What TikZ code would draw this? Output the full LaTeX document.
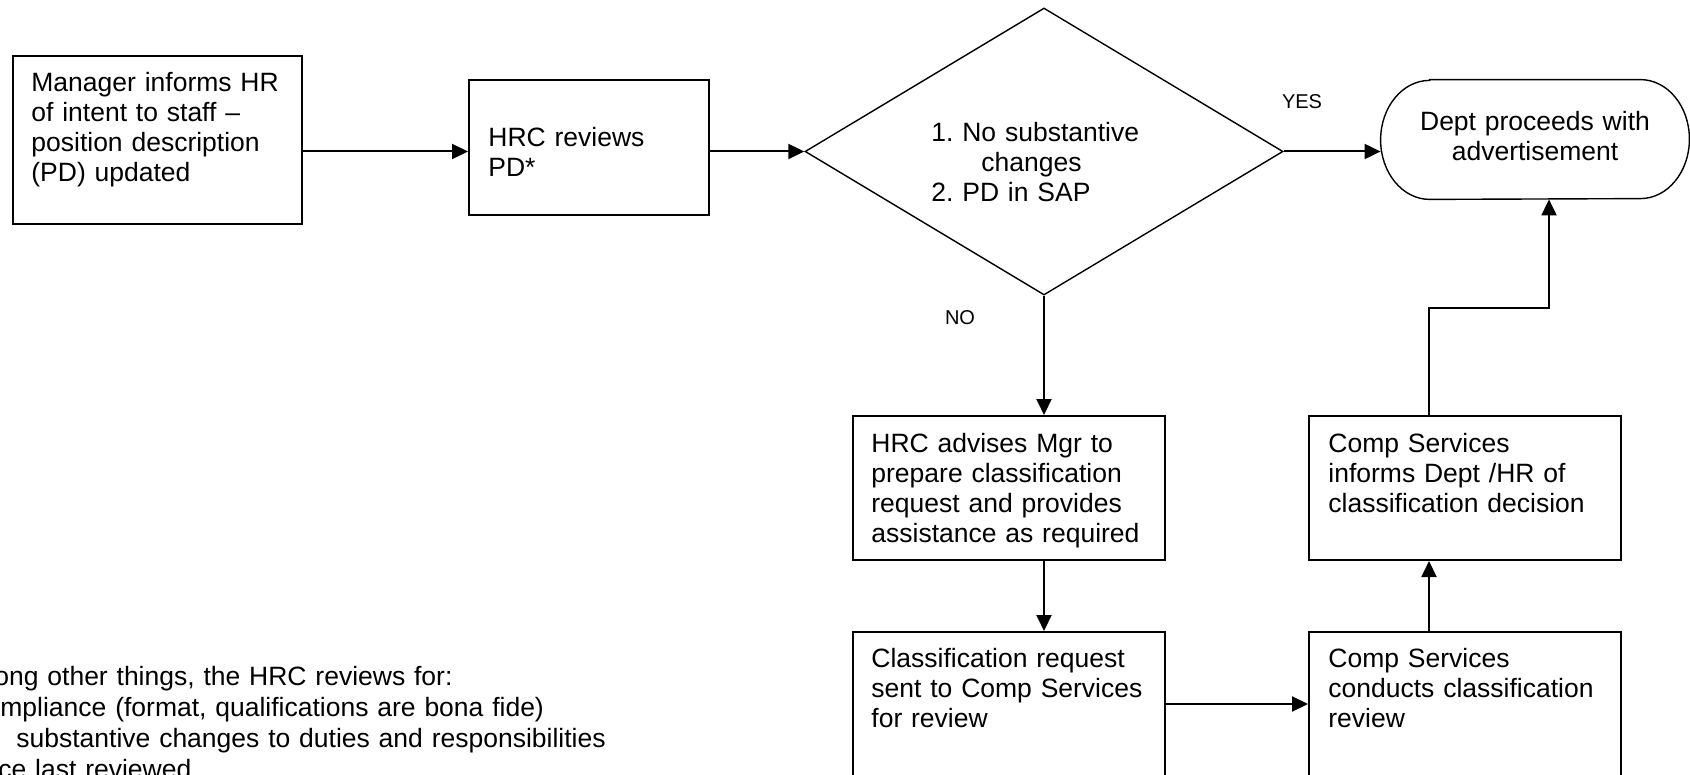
\documentclass[tikz,border=0pt]{standalone}
\usepackage{fontspec}
\setmainfont{Liberation Sans}
\usetikzlibrary{shapes.geometric,arrows.meta}
\newcommand{\bodyfont}{\fontsize{13.25pt}{15pt}\selectfont\frenchspacing}
\newcommand{\tagfont}{\fontsize{10pt}{12pt}\selectfont}

\begin{document}
\begin{tikzpicture}[x=0.5pt, y=-0.5pt,
  stepbox/.style={rectangle, draw, line width=1pt, inner sep=0pt, minimum width=156pt, minimum height=72pt},
  decision/.style={diamond, draw, line width=0.7pt, inner sep=0pt, minimum width=239pt, minimum height=143.5pt},
  terminal/.style={rectangle, inner sep=0pt, minimum width=154pt, minimum height=59.5pt},
  box_text/.style={anchor=north west, inner sep=0pt, text width=170pt, align=left, font=\bodyfont, execute at begin node=\strut},
  tag/.style={inner sep=0pt, font=\tagfont},
  flow/.style={line width=1pt, -{Triangle[length=8pt, width=7.5pt]}}]
  \useasboundingbox (0,0) rectangle (1690,775);
  \clip (0,0) rectangle (1690,775);
  % Top row
  \node[stepbox, minimum width=144.5pt, minimum height=84pt] (mgr) at (157.5,140) {};
  \node[stepbox, minimum width=120pt, minimum height=67.5pt] (hrc) at (589,147.5) {};
  \node[decision] (dec) at (1044,151.5) {};
  \node[terminal] (dept) at (1535,139.5) {};
  \draw[line width=0.7pt] ([xshift=24.5pt]dept.north west) -- ([xshift=-24.5pt]dept.north east)
    arc[start angle=90, end angle=-90, x radius=24.5pt, y radius=29.75pt]
    -- ([xshift=24.5pt]dept.south west)
    arc[start angle=270, end angle=90, x radius=24.5pt, y radius=29.75pt] -- cycle;
  % Lower rows
  \node[stepbox] (adv) at (1009,488) {};
  \node[stepbox] (inf) at (1465,488) {};
  \node[stepbox] (cls) at (1009,704) {};
  \node[stepbox] (rev) at (1465,704) {};
  % Texts
  \node[box_text] (mgr_txt) at (31,70.5) {Manager informs HR\\of intent to staff –\\position description\\(PD) updated};
  \node[box_text] (hrc_txt) at (488,125) {HRC reviews\\PD*};
  \node[box_text] (dec_txt) at (931,120) {1. No substantive\\\hspace*{25pt}changes\\2. PD in SAP};
  \node[box_text, anchor=north, align=center] (dept_txt) at (1535,109) {Dept proceeds with\\advertisement};
  \node[box_text] (adv_txt) at (871,431) {HRC advises Mgr to\\prepare classification\\request and provides\\assistance as required};
  \node[box_text] (inf_txt) at (1328,431) {Comp Services\\informs Dept /HR of\\classification decision};
  \node[box_text] (cls_txt) at (871,646) {Classification request\\sent to Comp Services\\for review};
  \node[box_text] (rev_txt) at (1328,646) {Comp Services\\conducts classification\\review};
  % Footnote
  \node[box_text, text width=340pt] (note1) at (-6,664) {ong other things, the HRC reviews for:};
  \node[box_text, text width=340pt] (note2) at (0,695) {mpliance (format, qualifications are bona fide)};
  \node[box_text, text width=340pt] (note3) at (16,726) {substantive changes to duties and responsibilities};
  \node[box_text, text width=340pt] (note4) at (-2,757) {ce last reviewed};
  % Connectors
  \coordinate (bend) at (1429,308);
  \coordinate (rise) at (1549,308);
  \draw[flow] (mgr.east |- dec.west) -- (hrc.west |- dec.west);
  \draw[flow] (hrc.east |- dec.west) -- (dec.west);
  \draw[flow] (dec.east) -- (dec.east -| dept.west);
  \draw[flow] (dec.south) -- (dec.south |- adv.north);
  \draw[flow] (dec.south |- adv.south) -- (dec.south |- cls.north);
  \draw[flow] (cls.east) -- (rev.west);
  \draw[flow] (rev.north -| bend) -- (inf.south -| bend);
  \draw[flow] (inf.north -| bend) -- (bend) -- (rise) -- (rise |- dept.south);
  \node[tag] (yes) at (1302,102) {YES};
  \node[tag] (no) at (960,317.5) {NO};
\end{tikzpicture}
\end{document}
